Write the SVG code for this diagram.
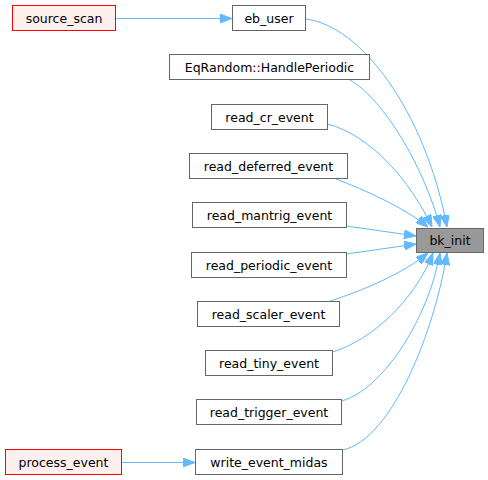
<svg xmlns="http://www.w3.org/2000/svg" width="488" height="480" viewBox="0 0 488 480">
<style>
.n rect{fill:#ffffff;stroke:#666666;stroke-width:1}
.n.r rect{fill:#fff0f0;stroke:#ff0000}
.n.g rect{fill:#999999;stroke:#666666}
.n text{font-family:"DejaVu Sans",sans-serif;font-size:12.5px;fill:#000000;text-anchor:middle}
.e path{fill:none;stroke:#63b8ff;stroke-width:1;marker-end:url(#ah)}
</style>
<defs>
<marker id="ah" markerUnits="userSpaceOnUse" markerWidth="12" markerHeight="9" viewBox="0 0 12 9" refX="12" refY="4.5" orient="auto">
<path d="M0,0 L12,4.5 L0,9 z" fill="#63b8ff" stroke="#63b8ff"/>
</marker>
</defs>
<g id="connectors" class="e">
<path d="M115.5,18.5 L232,18.5"/>
<path d="M121.5,462.5 L195,462.5"/>
<path d="M305.5,19 C360,25 425,110 447,227"/>
<path d="M350,80 C385,100 425,170 440,227"/>
<path d="M327.5,124 C370,135 410,180 432,227"/>
<path d="M336,179 C365,190 405,208 428,227"/>
<path d="M346.5,226 L416,236"/>
<path d="M346.5,254 L416,244"/>
<path d="M330,301 C365,290 405,272 428,253"/>
<path d="M332.5,352 C372,340 415,300 433,253"/>
<path d="M341.5,401 C382,390 428,320 440,253"/>
<path d="M342.5,450 C392,440 435,330 447,253"/>
</g>
<g id="bk_init" class="n g"><rect x="416.5" y="228.5" width="67" height="24"/><text x="450" y="245">bk_init</text></g>
<g id="source_scan" class="n r"><rect x="12.5" y="5.5" width="103" height="25"/><text x="64" y="22.5">source_scan</text></g>
<g id="eb_user" class="n"><rect x="232.5" y="5.5" width="73" height="25"/><text x="269" y="22.5">eb_user</text></g>
<g id="EqRandom_HandlePeriodic" class="n"><rect x="169.5" y="54.5" width="200" height="25"/><text x="269.5" y="71.5">EqRandom::HandlePeriodic</text></g>
<g id="read_cr_event" class="n"><rect x="211.5" y="104.5" width="116" height="25"/><text x="269.5" y="121.5">read_cr_event</text></g>
<g id="read_deferred_event" class="n"><rect x="189.5" y="153.5" width="158" height="25"/><text x="268.5" y="170.5">read_deferred_event</text></g>
<g id="read_mantrig_event" class="n"><rect x="192.5" y="202.5" width="154" height="25"/><text x="269.5" y="219.5">read_mantrig_event</text></g>
<g id="read_periodic_event" class="n"><rect x="191.5" y="252.5" width="155" height="25"/><text x="269" y="269.5">read_periodic_event</text></g>
<g id="read_scaler_event" class="n"><rect x="197.5" y="301.5" width="142" height="25"/><text x="268.5" y="318.5">read_scaler_event</text></g>
<g id="read_tiny_event" class="n"><rect x="205.5" y="350.5" width="127" height="25"/><text x="269" y="367.5">read_tiny_event</text></g>
<g id="read_trigger_event" class="n"><rect x="196.5" y="399.5" width="145" height="25"/><text x="269" y="416.5">read_trigger_event</text></g>
<g id="write_event_midas" class="n"><rect x="195.5" y="449.5" width="147" height="25"/><text x="269" y="466.5">write_event_midas</text></g>
<g id="process_event" class="n r"><rect x="5.5" y="449.5" width="116" height="25"/><text x="63.5" y="466.5">process_event</text></g>
</svg>
